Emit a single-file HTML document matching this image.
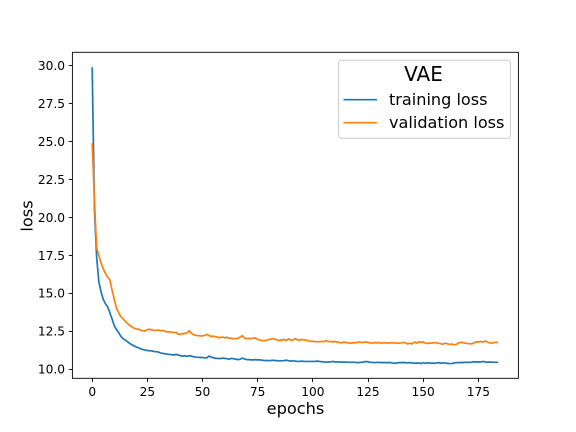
<!DOCTYPE html>
<html>
<head>
<meta charset="utf-8">
<title>VAE loss</title>
<style>
html,body{margin:0;padding:0;background:#fff;width:576px;height:432px;overflow:hidden}
svg{display:block}
text{font-family:"DejaVu Sans",sans-serif;fill:#000}
</style>
</head>
<body>
<svg id="chart" width="576" height="432" viewBox="0 0 576 432" xmlns="http://www.w3.org/2000/svg">
  <rect width="576" height="432" fill="#fff"/>
  <g id="series"></g>
  <g id="ticks"></g>
  <rect x="72.4" y="52.3" width="446" height="326" fill="none" stroke="#000" stroke-width="0.9"/>
  <text x="295.5" y="414" font-size="16.2" text-anchor="middle">epochs</text>
  <text transform="translate(32.5,216) rotate(-90)" font-size="16.2" text-anchor="middle">loss</text>
  <g>
    <rect x="338.5" y="60.3" width="172" height="78" rx="3" fill="#fff" fill-opacity="0.8" stroke="#ccc" stroke-width="1"/>
    <text x="423.5" y="81" font-size="20" text-anchor="middle">VAE</text>
    <line x1="343.5" x2="377" y1="99.7" y2="99.7" stroke="#1f77b4" stroke-width="1.6"/>
    <text x="389" y="105" font-size="16.1">training loss</text>
    <line x1="343.5" x2="377" y1="122.7" y2="122.7" stroke="#ff7f0e" stroke-width="1.6"/>
    <text x="389" y="128" font-size="16.1">validation loss</text>
  </g>
</svg>
<script>
const xTickValues = [0, 25, 50, 75, 100, 125, 150, 175];
const yTickValues = [10, 12.5, 15, 17.5, 20, 22.5, 25, 27.5, 30];
const trainingLoss = [
29.9,20.6,17.4,15.75,15.1,14.6,14.3,14.1,13.7,13.3,
12.85,12.6,12.4,12.15,12.0,11.9,11.8,11.68,11.6,11.52,
11.45,11.4,11.33,11.28,11.25,11.22,11.2,11.2,11.15,11.14,
11.12,11.05,11.03,11.0,10.98,10.96,10.95,10.92,10.97,10.92,
10.88,10.85,10.88,10.83,10.88,10.85,10.8,10.78,10.77,10.76,
10.76,10.74,10.74,10.85,10.78,10.74,10.7,10.7,10.68,10.72,
10.7,10.68,10.65,10.7,10.68,10.65,10.62,10.64,10.72,10.66,
10.62,10.62,10.6,10.6,10.62,10.6,10.6,10.58,10.56,10.56,
10.55,10.56,10.58,10.55,10.55,10.53,10.54,10.55,10.58,10.55,
10.52,10.54,10.52,10.5,10.5,10.52,10.5,10.5,10.5,10.5,
10.5,10.5,10.52,10.5,10.48,10.47,10.45,10.46,10.47,10.5,
10.47,10.47,10.46,10.45,10.46,10.45,10.45,10.44,10.45,10.44,
10.42,10.43,10.44,10.46,10.5,10.47,10.44,10.43,10.42,10.44,
10.43,10.42,10.43,10.42,10.42,10.43,10.4,10.38,10.4,10.42,
10.42,10.43,10.42,10.4,10.42,10.4,10.38,10.38,10.4,10.36,
10.42,10.37,10.42,10.38,10.4,10.37,10.4,10.42,10.38,10.4,
10.4,10.37,10.36,10.36,10.4,10.42,10.42,10.43,10.42,10.45,
10.43,10.45,10.44,10.48,10.46,10.47,10.46,10.5,10.47,10.45,
10.46,10.45,10.45,10.44,10.44];
const validationLoss = [
24.9,21.2,18.0,17.5,17.0,16.6,16.3,16.05,15.9,15.2,
14.6,14.0,13.7,13.45,13.3,13.15,13.0,12.88,12.78,12.68,
12.65,12.62,12.55,12.52,12.5,12.6,12.62,12.58,12.55,12.55,
12.56,12.52,12.55,12.48,12.45,12.45,12.43,12.4,12.42,12.28,
12.3,12.33,12.35,12.38,12.52,12.35,12.25,12.22,12.2,12.18,
12.18,12.22,12.28,12.2,12.15,12.15,12.13,12.1,12.05,12.12,
12.05,12.1,12.02,12.03,12.0,12.0,12.02,12.1,12.2,12.05,
12.0,12.02,12.0,12.03,12.05,11.95,11.9,11.88,11.87,11.9,
11.93,11.98,12.0,11.95,11.9,11.88,11.92,11.95,11.88,12.0,
11.9,11.92,12.0,11.92,11.9,11.95,11.92,11.9,11.85,11.83,
11.82,11.8,11.8,11.8,11.82,11.8,11.88,11.8,11.82,11.78,
11.82,11.78,11.75,11.72,11.78,11.75,11.72,11.7,11.73,11.72,
11.75,11.78,11.75,11.75,11.78,11.75,11.72,11.7,11.75,11.72,
11.75,11.7,11.72,11.73,11.7,11.72,11.74,11.7,11.72,11.7,
11.72,11.75,11.72,11.65,11.7,11.65,11.78,11.7,11.8,11.75,
11.78,11.7,11.68,11.72,11.7,11.74,11.72,11.7,11.66,11.64,
11.7,11.66,11.62,11.64,11.6,11.62,11.72,11.76,11.74,11.7,
11.68,11.66,11.66,11.72,11.8,11.78,11.82,11.78,11.84,11.8,
11.72,11.7,11.74,11.76,11.75];

function xScale(epoch) { return 92.2 + epoch * 2.2066; }
function yScale(loss) { return 369 - (loss - 10) * 15.165; }

const svgNS = 'http://www.w3.org/2000/svg';
const seriesGroup = document.getElementById('series');
const ticksGroup = document.getElementById('ticks');

function drawSeries(values, color, name) {
  const line = document.createElementNS(svgNS, 'polyline');
  line.setAttribute('points', values.map(function (v, i) {
    return xScale(i).toFixed(2) + ',' + yScale(v).toFixed(2);
  }).join(' '));
  line.setAttribute('fill', 'none');
  line.setAttribute('stroke', color);
  line.setAttribute('stroke-width', '1.7');
  line.setAttribute('stroke-linejoin', 'round');
  
  
  seriesGroup.appendChild(line);
}
drawSeries(trainingLoss, '#1f77b4', 'training-loss-line');
drawSeries(validationLoss, '#ff7f0e', 'validation-loss-line');

xTickValues.forEach(function (v) {
  const x = Math.round(xScale(v) - 0.5) + 0.5;
  const mark = document.createElementNS(svgNS, 'line');
  mark.setAttribute('x1', x);
  mark.setAttribute('x2', x);
  mark.setAttribute('y1', 378.3);
  mark.setAttribute('y2', 382);
  mark.setAttribute('stroke', '#000');
  mark.setAttribute('stroke-width', '0.9');
  
  
  ticksGroup.appendChild(mark);
  const label = document.createElementNS(svgNS, 'text');
  label.setAttribute('x', xScale(v));
  label.setAttribute('y', 396);
  label.setAttribute('font-size', '12.2');
  label.setAttribute('text-anchor', 'middle');
  
  
  label.textContent = String(v);
  ticksGroup.appendChild(label);
});

yTickValues.forEach(function (v) {
  const y = Math.round(yScale(v) - 0.5) + 0.5;
  const mark = document.createElementNS(svgNS, 'line');
  mark.setAttribute('x1', 68.8);
  mark.setAttribute('x2', 72.4);
  mark.setAttribute('y1', y);
  mark.setAttribute('y2', y);
  mark.setAttribute('stroke', '#000');
  mark.setAttribute('stroke-width', '0.9');
  
  
  ticksGroup.appendChild(mark);
  const label = document.createElementNS(svgNS, 'text');
  label.setAttribute('x', 65);
  label.setAttribute('y', yScale(v) + 4.5);
  label.setAttribute('font-size', '12.2');
  label.setAttribute('text-anchor', 'end');
  
  
  label.textContent = v.toFixed(1);
  ticksGroup.appendChild(label);
});
</script>
</body>
</html>
